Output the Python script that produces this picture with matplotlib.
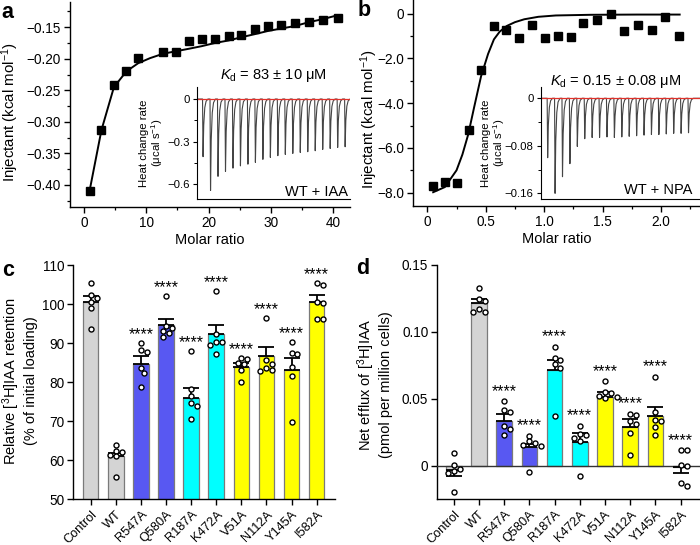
import matplotlib
matplotlib.use('Agg')
import matplotlib.pyplot as plt
import numpy as np
from matplotlib.ticker import FixedLocator, FuncFormatter

plt.rcParams['font.family'] = ['Liberation Sans', 'DejaVu Sans']
plt.rcParams['mathtext.fontset'] = 'custom'
plt.rcParams['mathtext.rm'] = 'Liberation Sans'
plt.rcParams['mathtext.it'] = 'Liberation Sans:italic'
plt.rcParams['mathtext.bf'] = 'Liberation Sans:bold'
plt.rcParams['axes.linewidth'] = 1.0

# ---------------- data ----------------
# panel a : WT + IAA
a_ratio = [0.9, 2.8, 4.8, 6.8, 8.7, 12.7, 14.8, 16.9, 18.9, 21.0, 23.2, 25.2,
           27.4, 29.5, 31.7, 33.9, 36.1, 38.4, 40.7]
a_heat = [-0.410, -0.313, -0.242, -0.220, -0.198, -0.190, -0.190, -0.172, -0.169,
          -0.169, -0.164, -0.162, -0.153, -0.148, -0.146, -0.143, -0.142, -0.139, -0.136]
a_fit_x = [0.9, 2.8, 4.8, 6.8, 8.7, 10.6, 12.7, 14.8, 16.9, 18.9, 21.0, 23.2,
           25.2, 27.4, 29.5, 31.7, 33.9, 36.1, 38.4, 40.7]
a_fit_y = [-0.409, -0.313, -0.245, -0.220, -0.207, -0.199, -0.192, -0.188, -0.184,
           -0.180, -0.175, -0.171, -0.166, -0.161, -0.156, -0.152, -0.148, -0.142,
           -0.137, -0.131]
a_peaks = [-0.407, -0.646, -0.546, -0.511, -0.488, -0.472, -0.460, -0.447, -0.426,
           -0.412, -0.400, -0.391, -0.384, -0.377, -0.372, -0.365, -0.356, -0.349,
           -0.342, -0.337]

# panel b : WT + NPA
b_ratio = [0.046, 0.154, 0.257, 0.357, 0.462, 0.568, 0.674, 0.785, 0.896, 1.008,
           1.116, 1.228, 1.336, 1.453, 1.570, 1.684, 1.804, 1.921, 2.038, 2.158]
b_heat = [-7.69, -7.51, -7.57, -5.18, -2.50, -0.55, -0.73, -1.10, -0.49, -1.07,
          -0.99, -1.06, -0.42, -0.28, 0.00, -0.76, -0.49, -0.72, -0.16, -1.01]
b_fit_x = [0.05, 0.15, 0.25, 0.30, 0.35, 0.40, 0.46, 0.52, 0.57, 0.62, 0.68, 0.75,
           0.83, 0.95, 1.10, 1.40, 1.80, 2.16]
b_fit_y = [-7.98, -7.75, -7.00, -6.30, -5.40, -4.20, -2.80, -1.80, -1.15, -0.80,
           -0.55, -0.38, -0.25, -0.14, -0.08, -0.05, -0.04, -0.04]
b_peaks = [-0.100, -0.160, -0.132, -0.110, -0.081, -0.068, -0.066, -0.066, -0.065,
           -0.066, -0.065, -0.064, -0.063, -0.062, -0.061, -0.061, -0.060, -0.059,
           -0.059, -0.058]

# panels c and d
categories = ['Control', 'WT', 'R547A', 'Q580A', 'R187A', 'K472A', 'V51A',
              'N112A', 'Y145A', 'I582A']
bar_colors = ['#d4d4d4', '#d4d4d4', '#5858f2', '#5858f2', '#00ffff', '#00ffff',
              '#ffff00', '#ffff00', '#ffff00', '#ffff00']
significant = [False, False, True, True, True, True, True, True, True, True]

c_mean = [100.5, 61.0, 84.8, 94.6, 76.1, 92.3, 83.8, 86.8, 83.2, 100.5]
c_sem = [1.7, 0.9, 1.9, 1.7, 2.4, 2.3, 1.1, 2.3, 3.0, 1.9]
c_points = [
    [105.4, 102.5, 101.5, 100.5, 99.0, 93.7],
    [63.9, 62.4, 62.2, 61.4, 61.0, 55.8],
    [90.2, 88.3, 87.8, 83.6, 82.3, 78.9],
    [102.1, 94.4, 93.8, 93.2, 92.6, 91.7],
    [88.0, 78.2, 76.5, 74.8, 74.0, 70.5],
    [103.5, 92.4, 90.4, 90.3, 89.6, 87.2],
    [86.2, 85.9, 85.0, 84.6, 83.2, 80.2],
    [96.6, 85.7, 84.7, 83.6, 83.2, 83.0],
    [90.3, 87.4, 87.2, 84.0, 81.6, 69.7],
    [105.4, 105.0, 100.5, 100.4, 96.2, 96.2],
]

d_mean = [-0.0032, 0.121, 0.0337, 0.0137, 0.0717, 0.0178, 0.0509, 0.0288, 0.0370, -0.0010]
d_sem = [0.0044, 0.0030, 0.0050, 0.0028, 0.0073, 0.0065, 0.0039, 0.0064, 0.0069, 0.0047]
d_points = [
    [0.0094, 0.0007, -0.0025, -0.0037, -0.0054, -0.0199],
    [0.1328, 0.1240, 0.1230, 0.1166, 0.1144, 0.1144],
    [0.0479, 0.0412, 0.0400, 0.0293, 0.0275, 0.0231],
    [0.0225, 0.0181, 0.0169, 0.0156, 0.0144, -0.0050],
    [0.0888, 0.0800, 0.0790, 0.0757, 0.0730, 0.0372],
    [0.0300, 0.0238, 0.0231, 0.0206, 0.0181, -0.0074],
    [0.0628, 0.0548, 0.0540, 0.0520, 0.0510, 0.0504],
    [0.0385, 0.0375, 0.0337, 0.0310, 0.0246, 0.0082],
    [0.0665, 0.0397, 0.0342, 0.0330, 0.0288, 0.0226],
    [0.0114, 0.0114, 0.0007, -0.0005, -0.0129, -0.0154],
]

# ---------------- helpers ----------------
W, H = 700, 545
fig = plt.figure(figsize=(7, 5.45), dpi=100)


def rect(l, t, r, b):
    return [l / W, 1 - b / H, (r - l) / W, (b - t) / H]


def fxy(x, y):
    return x / W, 1 - y / H


def minus_fmt(fmt):
    def f(v, pos):
        if abs(v) < 1e-12:
            return '0'
        return (fmt % v).replace('-', '\u2212')
    return FuncFormatter(f)


TICK_FS = 9.8
XCAT_FS = 9.2
LAB_FS = 10.5
PM = '\u00b1'
MU = '\u03bc'


def style_axes(ax):
    for s in ('top', 'right'):
        ax.spines[s].set_visible(False)
    ax.tick_params(which='major', direction='out', length=4, width=1.0,
                   labelsize=TICK_FS, pad=2.5)
    ax.tick_params(which='minor', direction='out', length=2.5, width=0.9)


def trace(peaks):
    xs, ys = [-5.0], [0.0]
    for i, d in enumerate(peaks):
        p = i
        xs += [p - 0.02, p + 0.05, p + 0.14, p + 0.28, p + 0.45, p + 0.7]
        ys += [0.0, d, 0.45 * d, 0.15 * d, 0.04 * d, 0.0]
    xs.append(50)
    ys.append(0.0)
    return xs, ys


def inset_style(a):
    a.patch.set_alpha(0)
    for s in ('top', 'right'):
        a.spines[s].set_visible(False)
    a.spines['left'].set_linewidth(0.8)
    a.spines['bottom'].set_linewidth(0.8)
    a.set_xticks([])
    a.tick_params(axis='y', which='major', direction='out', length=3, width=0.8,
                  labelsize=8.2, pad=2)
    a.tick_params(axis='y', which='minor', direction='out', length=2, width=0.7)


# ---------------- panel a ----------------
ax = fig.add_axes(rect(70, 2, 350, 207))
style_axes(ax)
ax.plot(a_fit_x, a_fit_y, color='black', lw=1.4, zorder=2)
ax.plot(a_ratio, a_heat, 's', color='black', ms=5.2, zorder=3)
ax.set_xlim(-2.25, 42.7)
ax.set_ylim(-0.435, -0.110)
ax.xaxis.set_major_locator(FixedLocator([0, 10, 20, 30, 40]))
ax.xaxis.set_minor_locator(FixedLocator([5, 15, 25, 35]))
ax.yaxis.set_major_locator(FixedLocator([-0.40, -0.35, -0.30, -0.25, -0.20, -0.15]))
ax.yaxis.set_minor_locator(FixedLocator([-0.425, -0.375, -0.325, -0.275, -0.225, -0.175, -0.125]))
ax.yaxis.set_major_formatter(minus_fmt('%.2f'))
ax.set_xlabel('Molar ratio', fontsize=LAB_FS, labelpad=2)

axi = fig.add_axes(rect(197, 87, 350, 199))
inset_style(axi)
tx, ty = trace(a_peaks)
axi.plot(tx, ty, color='#444444', lw=0.8)
axi.axhline(0, color='#e0322b', lw=0.9)
axi.set_xlim(-0.76, 19.7)
axi.set_ylim(-0.706, 0.085)
axi.yaxis.set_major_locator(FixedLocator([0, -0.3, -0.6]))
axi.yaxis.set_minor_locator(FixedLocator([-0.15, -0.45]))
axi.yaxis.set_major_formatter(minus_fmt('%.1f'))

# ---------------- panel b ----------------
bx = fig.add_axes(rect(413.3, 0, 700, 206))
style_axes(bx)
bx.plot(b_fit_x, b_fit_y, color='black', lw=1.4, zorder=2)
bx.plot(b_ratio, b_heat, 's', color='black', ms=5.2, zorder=3)
bx.set_xlim(-0.12, 2.334)
bx.set_ylim(-8.596, 0.611)
bx.xaxis.set_major_locator(FixedLocator([0, 0.5, 1.0, 1.5, 2.0]))
bx.xaxis.set_minor_locator(FixedLocator([0.25, 0.75, 1.25, 1.75, 2.25]))
bx.xaxis.set_major_formatter(minus_fmt('%.1f'))
bx.yaxis.set_major_locator(FixedLocator([0, -2, -4, -6, -8]))
bx.yaxis.set_minor_locator(FixedLocator([-1, -3, -5, -7]))
bx.yaxis.set_major_formatter(minus_fmt('%.1f'))
bx.set_xlabel('Molar ratio', fontsize=LAB_FS, labelpad=2)

bxi = fig.add_axes(rect(540.7, 87, 700, 199.3))
inset_style(bxi)
tx, ty = trace(b_peaks)
bxi.plot(tx, ty, color='#444444', lw=0.8)
bxi.axhline(0, color='#e0322b', lw=0.9)
bxi.set_xlim(-0.89, 20.6)
bxi.set_ylim(-0.170, 0.019)
bxi.yaxis.set_major_locator(FixedLocator([0, -0.08, -0.16]))
bxi.yaxis.set_minor_locator(FixedLocator([-0.04, -0.12]))
bxi.yaxis.set_major_formatter(minus_fmt('%.2f'))

# ---------------- panels c & d ----------------


def swarm(axx, xc, ys, d_px=5.4):
    tr = axx.transData
    placed = []
    out = []
    offs = [0.0]
    for m in range(1, 8):
        offs += [m * 0.55 * d_px, -m * 0.55 * d_px]
    for y in ys:
        px0, py = tr.transform((xc, y))
        chosen = offs[-1]
        for off in offs:
            if all((px0 + off - qx) ** 2 + (py - qy) ** 2 >= d_px ** 2 for qx, qy in placed):
                chosen = off
                break
        placed.append((px0 + chosen, py))
        out.append(tr.inverted().transform((px0 + chosen, py))[0])
    return out


def bar_panel(axx, means, sems, points, star_px):
    style_axes(axx)
    xpos = np.arange(len(categories))
    axx.bar(xpos, means, width=0.62, color=bar_colors, edgecolor='#7a7a7a',
            linewidth=0.9, zorder=2)
    lower = [s if m < 0 else 0 for m, s in zip(means, sems)]
    upper = [s if m >= 0 else 0 for m, s in zip(means, sems)]
    axx.errorbar(xpos, means, yerr=[lower, upper], fmt='none', ecolor='black',
                 elinewidth=1.3, capsize=6.0, capthick=1.3, zorder=4)
    for i, pts in enumerate(points):
        xs = swarm(axx, xpos[i], pts)
        axx.scatter(xs, pts, s=13, facecolor='white', edgecolor='black',
                    linewidth=1.0, zorder=5)
        if significant[i]:
            top = max(max(pts), means[i] + upper[i])
            axx.annotate('****', (xpos[i], top), xytext=(0, star_px),
                         textcoords='offset points', ha='center', va='center',
                         fontsize=11.5, zorder=6)
    axx.set_xticks(xpos)
    axx.set_xticklabels(categories, rotation=45, ha='right', va='top',
                        rotation_mode='anchor', fontsize=XCAT_FS)
    axx.tick_params(axis='x', pad=2.5)


cx = fig.add_axes(rect(73.3, 265.3, 335, 499.3))
cx.set_xlim(-0.69, 9.73)
cx.set_ylim(50, 110)
cx.set_yticks([50, 60, 70, 80, 90, 100, 110])
bar_panel(cx, c_mean, c_sem, c_points, 6.0)

dx = fig.add_axes(rect(437.3, 264.5, 700, 499.3))
dx.set_xlim(-0.65, 9.77)
dx.set_ylim(-0.025, 0.15)
dx.axhline(0, color='#333333', lw=1.0, zorder=3)
dx.set_yticks([0, 0.05, 0.10, 0.15])
dx.set_yticklabels(['0', '0.05', '0.10', '0.15'])
bar_panel(dx, d_mean, d_sem, d_points, 7.3)

# ---------------- texts ----------------
fig.text(*fxy(10.5, 112), 'Injectant (kcal mol$^{-1}$)', rotation=90, ha='center',
         va='center', fontsize=10.8)
fig.text(*fxy(369, 119), 'Injectant (kcal mol$^{-1}$)', rotation=90, ha='center',
         va='center', fontsize=10.8)
fig.text(*fxy(152, 143), 'Heat change rate\n(' + MU + 'cal s$^{-1}$)', rotation=90,
         ha='center', va='center', fontsize=8.2, linespacing=1.1)
fig.text(*fxy(494, 143), 'Heat change rate\n(' + MU + 'cal s$^{-1}$)', rotation=90,
         ha='center', va='center', fontsize=8.2, linespacing=1.1)
fig.text(*fxy(273, 75), '$K_{\\rm d}$ = 83 ' + PM + ' 10 ' + MU + 'M',
         ha='center', va='center', fontsize=LAB_FS)
fig.text(*fxy(616, 81), '$K_{\\rm d}$ = 0.15 ' + PM + ' 0.08 ' + MU + 'M',
         ha='center', va='center', fontsize=LAB_FS)
fig.text(*fxy(348, 192), 'WT + IAA', ha='right', va='center', fontsize=LAB_FS)
fig.text(*fxy(692, 190), 'WT + NPA', ha='right', va='center', fontsize=LAB_FS)
fig.text(*fxy(19, 381), 'Relative [$^{3}$H]IAA retention\n(% of initial loading)',
         rotation=90, ha='center', va='center', fontsize=LAB_FS, linespacing=1.15)
fig.text(*fxy(374, 385), 'Net efflux of [$^{3}$H]IAA\n(pmol per million cells)',
         rotation=90, ha='center', va='center', fontsize=LAB_FS, linespacing=1.15)

for lab, (x, y) in zip('abcd', [(7, 12), (364, 10), (8, 270), (363, 269)]):
    fig.text(*fxy(x, y), lab, ha='center', va='center', fontsize=15.5,
             fontweight='bold')

fig.savefig('out.png', dpi=100)
